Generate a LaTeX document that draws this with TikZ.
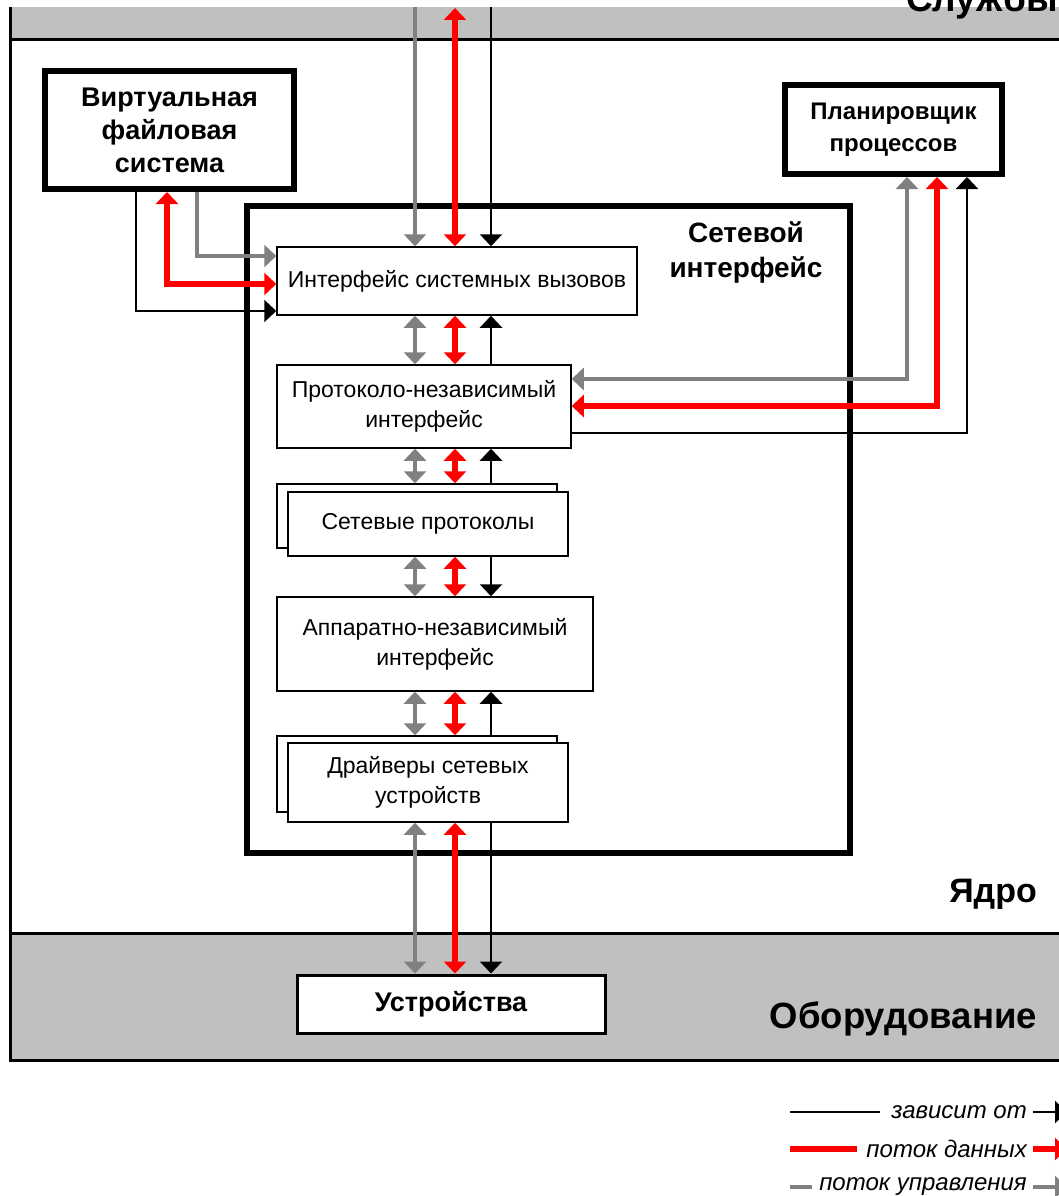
\documentclass[tikz,border=0pt]{standalone}
\usepackage{fontspec}
\setmainfont{Liberation Sans}
\usetikzlibrary{arrows.meta}
\definecolor{bandgray}{RGB}{192,192,192}
\definecolor{ctrlgray}{RGB}{128,128,128}
\definecolor{datared}{RGB}{255,0,0}
\tikzset{
  mytip/.tip={Triangle[width=22pt,length=12pt]},
  dep/.style={draw=black,line width=2.5pt},
  dat/.style={draw=datared,line width=6pt},
  ctl/.style={draw=ctrlgray,line width=3.5pt},
  inbox/.style={draw,fill=white,line width=1.5pt,inner sep=0pt,align=center,font=\fontsize{23}{30}\selectfont},
  titlebox/.style={draw,fill=white,line width=6pt,inner sep=0pt,align=center},
  lbl/.style={font=\bfseries\fontsize{34}{40}\selectfont,inner sep=0pt},
  leg/.style={font=\itshape\fontsize{24}{28}\selectfont,inner sep=0pt,anchor=east}
}
\begin{document}
\begin{tikzpicture}[x=1pt,y=-1pt]
\useasboundingbox (0,0) rectangle (1059,1196);
\clip (0,0) rectangle (1059,1196);
% bands
\fill[bandgray] (10,7) rectangle (1070,40);
\fill[bandgray] (10,933) rectangle (1070,1060);
\draw[line width=3pt] (10,7) -- (10,1060) -- (1070,1060);
\draw[line width=3pt] (10,40) -- (1070,40);
\draw[line width=3pt] (10,933) -- (1070,933);
\node[lbl,font=\bfseries\fontsize{37}{40}\selectfont,anchor=base west] (svc) at (906,12) {Службы};
\node[lbl,anchor=base east] (kern) at (1037,902) {Ядро};
\node[lbl,font=\bfseries\fontsize{36.5}{40}\selectfont,anchor=base east] (hwl) at (1037,1028) {Оборудование};
% network interface
\node[draw,fill=white,line width=6pt,minimum width=603pt,minimum height=647pt,inner sep=0pt] (net) at (548.5,529.5) {};
\node[font=\bfseries\fontsize{28}{35}\selectfont,align=center,inner sep=0pt] (netl) at (746,252) {Сетевой\\интерфейс};
% boxes
\node[titlebox,font=\bfseries\fontsize{27}{33}\selectfont,minimum width=249pt,minimum height=118pt] (vfs) at (169.5,130) {Виртуальная\\файловая\\система};
\node[titlebox,font=\bfseries\fontsize{24}{32}\selectfont,minimum width=217pt,minimum height=89pt] (sched) at (893.5,129.5) {Планировщик\\процессов};
\node[inbox,minimum width=360pt,minimum height=68pt] (sys) at (457,281) {Интерфейс системных вызовов};
\node[inbox,minimum width=294pt,minimum height=83pt] (pin) at (424,406.5) {Протоколо-независимый\\интерфейс};
\node[inbox,minimum width=280pt,minimum height=64pt] (protoB) at (417,516) {};
\node[inbox,minimum width=280pt,minimum height=64pt] (protoF) at (428,524) {Сетевые протоколы};
\node[inbox,minimum width=316pt,minimum height=94pt] (hw) at (435,644) {Аппаратно-независимый\\интерфейс};
\node[inbox,minimum width=280pt,minimum height=76pt] (drvB) at (417,774) {};
\node[inbox,minimum width=280pt,minimum height=79pt] (drvF) at (428,782.5) {Драйверы сетевых\\устройств};
\node[draw,fill=white,line width=3pt,inner sep=0pt,minimum width=308pt,minimum height=58pt,font=\bfseries\fontsize{27}{32}\selectfont] (dev) at (451,1004) {Устройства};
% vertical columns
\coordinate (tg) at (415,7);
\coordinate (tr) at (455,8);
\coordinate (tb) at (491,7);
\draw[ctl,-mytip] (tg) -- (tg |- sys.north);
\draw[dat,mytip-mytip] (tr) -- (tr |- sys.north);
\draw[dep,-mytip] (tb) -- (tb |- sys.north);
\draw[ctl,mytip-mytip] (tg |- sys.south) -- (tg |- pin.north);
\draw[dat,mytip-mytip] (tr |- sys.south) -- (tr |- pin.north);
\draw[dep,mytip-] (tb |- sys.south) -- (tb |- pin.north);
\draw[ctl,mytip-mytip] (tg |- pin.south) -- (tg |- protoB.north);
\draw[dat,mytip-mytip] (tr |- pin.south) -- (tr |- protoB.north);
\draw[dep,mytip-] (tb |- pin.south) -- (tb |- protoB.north);
\draw[ctl,mytip-mytip] (tg |- protoF.south) -- (tg |- hw.north);
\draw[dat,mytip-mytip] (tr |- protoF.south) -- (tr |- hw.north);
\draw[dep,-mytip] (tb |- protoF.south) -- (tb |- hw.north);
\draw[ctl,mytip-mytip] (tg |- hw.south) -- (tg |- drvB.north);
\draw[dat,mytip-mytip] (tr |- hw.south) -- (tr |- drvB.north);
\draw[dep,mytip-] (tb |- hw.south) -- (tb |- drvB.north);
\draw[ctl,mytip-mytip] (tg |- drvF.south) -- (tg |- dev.north);
\draw[dat,mytip-mytip] (tr |- drvF.south) -- (tr |- dev.north);
\draw[dep,-mytip] (tb |- drvF.south) -- (tb |- dev.north);
% VFS links
\coordinate (vg) at (197,256);
\coordinate (vr) at (167,284);
\coordinate (vb) at (136,311);
\draw[ctl,-mytip] (vg |- vfs.south) -- (vg) -- (vg -| sys.west);
\draw[dat,mytip-mytip] (vr |- vfs.south) -- (vr) -- (vr -| sys.west);
\draw[dep,-mytip] (vb |- vfs.south) -- (vb) -- (vb -| sys.west);
% scheduler links
\coordinate (sg) at (907,379);
\coordinate (sr) at (937,406);
\coordinate (sb) at (967,433);
\draw[ctl,mytip-mytip] (sg -| pin.east) -- (sg) -- (sg |- sched.south);
\draw[dat,mytip-mytip] (sr -| pin.east) -- (sr) -- (sr |- sched.south);
\draw[dep,-mytip] (sb -| pin.east) -- (sb) -- (sb |- sched.south);
% legend
\coordinate (la1) at (790,1112); \coordinate (la2) at (880,1112);
\coordinate (lb1) at (790,1149); \coordinate (lb2) at (857,1149);
\coordinate (lc1) at (790,1187); \coordinate (lc2) at (812,1187);
\draw[dep] (la1) -- (la2);
\draw[dat] (lb1) -- (lb2);
\draw[ctl] (lc1) -- (lc2);
\node[leg] (l1) at (1027,1112) {зависит от};
\node[leg] (l2) at (1027,1149) {поток данных};
\node[leg] (l3) at (1027,1187) {поток управления};
\coordinate (ta1) at (1033,1112); \coordinate (ta2) at (1067,1112);
\coordinate (tb1) at (1033,1149); \coordinate (tb2) at (1067,1149);
\coordinate (tc1) at (1033,1187); \coordinate (tc2) at (1067,1187);
\draw[dep,-mytip] (ta1) -- (ta2);
\draw[dat,-mytip] (tb1) -- (tb2);
\draw[ctl,-mytip] (tc1) -- (tc2);
\end{tikzpicture}
\end{document}
